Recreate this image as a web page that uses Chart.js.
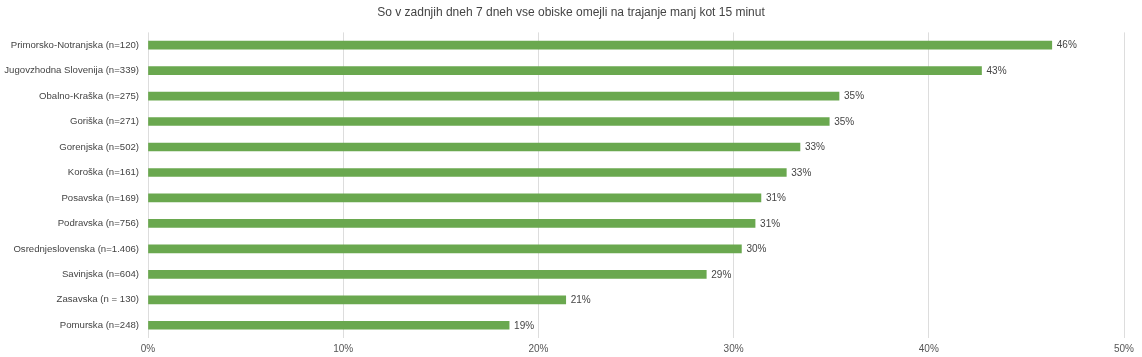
<!DOCTYPE html>
<html>
<head>
<meta charset="utf-8">
<script src="https://cdn.jsdelivr.net/npm/chart.js@4"></script>
<style>
html,body{margin:0;padding:0;background:#fff;}
#wrap{width:1142px;height:357px;position:relative;}
</style>
</head>
<body>
<div id="wrap"><canvas id="c" width="1142" height="357"></canvas></div>
<script>
const titleText = 'So v zadnjih dneh 7 dneh vse obiske omejli na trajanje manj kot 15 minut';
const categories = [
  'Primorsko-Notranjska (n=120)',
  'Jugovzhodna Slovenija (n=339)',
  'Obalno-Kraška (n=275)',
  'Goriška (n=271)',
  'Gorenjska (n=502)',
  'Koroška (n=161)',
  'Posavska (n=169)',
  'Podravska (n=756)',
  'Osrednjeslovenska (n=1.406)',
  'Savinjska (n=604)',
  'Zasavska (n = 130)',
  'Pomurska (n=248)'
];
const values = [46.3, 42.7, 35.4, 34.9, 33.4, 32.7, 31.4, 31.1, 30.4, 28.6, 21.4, 18.5];
const valueLabels = ['46%', '43%', '35%', '35%', '33%', '33%', '31%', '31%', '30%', '29%', '21%', '19%'];
const xTicks = [0, 10, 20, 30, 40, 50];

const FONT = '"Liberation Sans", Arial, sans-serif';

const dataLabelPlugin = {
  id: 'dataLabels',
  afterDatasetsDraw(chart) {
    const ctx = chart.ctx;
    const meta = chart.getDatasetMeta(0);
    ctx.save();
    ctx.font = '10px ' + FONT;
    ctx.fillStyle = '#444';
    ctx.textAlign = 'left';
    ctx.textBaseline = 'middle';
    meta.data.forEach((bar, i) => {
      ctx.fillText(valueLabels[i], bar.x + 5, bar.y + 0.5);
    });
    ctx.restore();
  }
};

new Chart(document.getElementById('c'), {
  type: 'bar',
  data: {
    labels: categories,
    datasets: [{
      data: values,
      backgroundColor: '#6aa84f',
      borderWidth: 0,
      barThickness: 8
    }]
  },
  options: {
    indexAxis: 'y',
    responsive: false,
    animation: false,
    layout: { padding: { left: 0, right: 0, top: 0, bottom: 2 } },
    plugins: {
      legend: { display: false },
      tooltip: { enabled: false },
      title: {
        display: true,
        text: titleText,
        color: '#444',
        font: { family: FONT, size: 12, weight: 'normal' },
        padding: { top: 5, bottom: 13 }
      }
    },
    scales: {
      x: {
        min: 0,
        max: 50,
        afterBuildTicks(scale) { scale.ticks = xTicks.map(v => ({ value: v })); },
        afterFit(scale) { scale.height = 17; scale.paddingRight = 18; },
        grid: { color: '#dddddd', drawTicks: false, lineWidth: 1 },
        border: { display: false },
        ticks: {
          color: '#555',
          font: { family: FONT, size: 10 },
          padding: 5,
          callback: v => v + '%'
        }
      },
      y: {
        grid: { display: false, drawTicks: false },
        border: { display: false },
        afterFit(scale) { scale.width = 148; },
        ticks: {
          color: '#444',
          font: { family: FONT, size: 9.6 },
          padding: 9
        }
      }
    }
  },
  plugins: [dataLabelPlugin]
});
</script>
</body>
</html>
